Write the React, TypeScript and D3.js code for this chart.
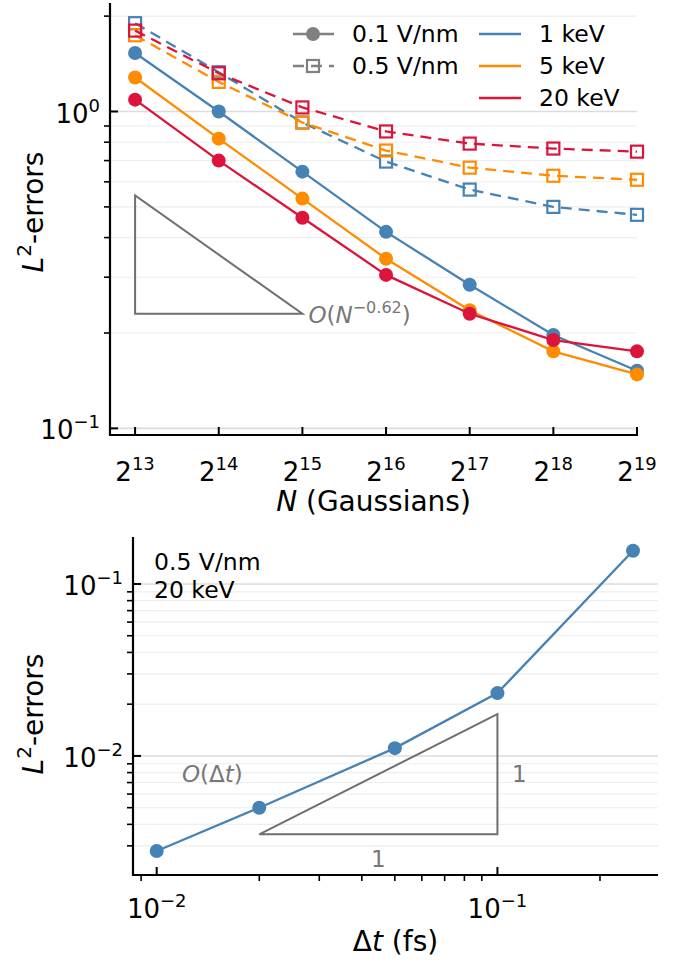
import React from "react";
import * as d3 from "d3";

// ---------- data ----------
const gaussN = [8192, 16384, 32768, 65536, 131072, 262144, 524288];
const gaussExp = ["13", "14", "15", "16", "17", "18", "19"];

const err01_1keV = [1.53, 1.0, 0.646, 0.417, 0.284, 0.197, 0.152];
const err01_5keV = [1.28, 0.821, 0.531, 0.343, 0.236, 0.175, 0.148];
const err01_20keV = [1.09, 0.7, 0.462, 0.305, 0.23, 0.19, 0.175];
const err05_1keV = [1.9, 1.33, 0.923, 0.695, 0.567, 0.5, 0.472];
const err05_5keV = [1.74, 1.24, 0.923, 0.753, 0.665, 0.627, 0.609];
const err05_20keV = [1.8, 1.32, 1.03, 0.865, 0.792, 0.764, 0.747];

const energies = ["1 keV", "5 keV", "20 keV"];
const fields = ["0.1 V/nm", "0.5 V/nm"];
const colors = ["#4682B4", "#FF8C00", "#DC143C"];

const dtValues = [0.01, 0.02, 0.05, 0.1, 0.25];
const dtErrors = [0.0028, 0.005, 0.0111, 0.0232, 0.156];

// slope guides (data coords)
const slopeTopX = [8192, 32768];
const slopeTopY = [0.23, 0.543];
const slopeBotX = [0.02, 0.1];
const slopeBotY = [0.0035, 0.0175];

const FONT = "DejaVu Sans";
const GRAY = "#6f6f6f";
const TICK = 26;
const SUP = 18;
const GUIDE = 28;

function Sup({ base, sup, x, y, anchor, size, supSize }: any) {
  return (
    <text x={x} y={y} textAnchor={anchor} fontFamily={FONT} fontSize={size} fill="#000">
      {base}
      <tspan dy={-size * 0.42} fontSize={supSize}>{sup}</tspan>
    </text>
  );
}

function minorTicks(domain: number[]) {
  const out: { v: number; major: boolean }[] = [];
  const lo = Math.floor(Math.log10(domain[0]));
  const hi = Math.ceil(Math.log10(domain[1]));
  for (let e = lo; e <= hi; e++) {
    for (let m = 1; m <= 9; m++) {
      const v = m * Math.pow(10, e);
      if (v >= domain[0] && v <= domain[1]) out.push({ v, major: m === 1 });
    }
  }
  return out;
}

function YLabel({ cy }: { cy: number }) {
  return (
    <text transform={`translate(43,${cy}) rotate(-90)`} textAnchor="middle" fontFamily={FONT} fontSize={GUIDE}>
      <tspan fontStyle="italic">L</tspan>
      <tspan dy={-12} fontSize={20}>2</tspan>
      <tspan dy={12}>-errors</tspan>
    </text>
  );
}

function TopChart() {
  const L = 110, R = 637, T = 3, B = 435;
  const x = d3.scaleLog().base(2).domain([Math.pow(2, 12.7), 524288]).range([L, R]);
  const y = d3.scaleLog().domain([0.0953, 2.2]).range([B, T]);
  const yt = minorTicks(y.domain());
  const line = d3.line<number>().x((_, i) => x(gaussN[i])).y((d) => y(d));
  const solid = [err01_1keV, err01_5keV, err01_20keV];
  const dashed = [err05_1keV, err05_5keV, err05_20keV];
  const sq = 12;
  return (
    <g>
      {yt.map((t, i) => (
        <line key={"g" + i} x1={L} x2={R} y1={y(t.v)} y2={y(t.v)}
          stroke={t.major ? "#dcdcdc" : "#eeeeee"} strokeWidth={t.major ? 1.6 : 1.1} />
      ))}
      {/* slope triangle */}
      <path
        d={`M${x(slopeTopX[0])},${y(slopeTopY[1])} L${x(slopeTopX[0])},${y(slopeTopY[0])} L${x(slopeTopX[1])},${y(slopeTopY[0])} Z`}
        fill="none" stroke={GRAY} strokeWidth={2} />
      <text x={x(slopeTopX[1]) + 6} y={y(slopeTopY[0]) + 9} fontFamily={FONT} fontSize={23} fill="#777">
        <tspan fontStyle="italic">O</tspan>(<tspan fontStyle="italic">N</tspan>
        <tspan dy={-10} fontSize={16}>−0.62</tspan>
        <tspan dy={10}>)</tspan>
      </text>
      {[0, 1, 2].map((k) => (
        <g key={"s" + k}>
          <path d={line(solid[k]) || ""} fill="none" stroke={colors[k]} strokeWidth={2.3} />
          {solid[k].map((v, i) => (
            <circle key={i} cx={x(gaussN[i])} cy={y(v)} r={7} fill={colors[k]} />
          ))}
          <path d={line(dashed[k]) || ""} fill="none" stroke={colors[k]} strokeWidth={2.3} strokeDasharray="11,7" />
          {dashed[k].map((v, i) => (
            <rect key={i} x={x(gaussN[i]) - sq / 2} y={y(v) - sq / 2} width={sq} height={sq}
              fill="none" stroke={colors[k]} strokeWidth={2.2} />
          ))}
        </g>
      ))}
      {/* spines */}
      <line x1={L} x2={L} y1={T} y2={B + 1} stroke="#000" strokeWidth={2.2} />
      <line x1={L - 1} x2={R + 1} y1={B} y2={B} stroke="#000" strokeWidth={2.2} />
      {yt.map((t, i) =>
        t.major ? (
          <line key={"t" + i} x1={L} x2={L + 8} y1={y(t.v)} y2={y(t.v)} stroke="#000" strokeWidth={2} />
        ) : (
          <line key={"t" + i} x1={L - 6} x2={L} y1={y(t.v)} y2={y(t.v)} stroke="#000" strokeWidth={1.6} />
        )
      )}
      {gaussN.map((n, i) => (
        <line key={"xt" + i} x1={x(n)} x2={x(n)} y1={B} y2={B - 8} stroke="#000" strokeWidth={2} />
      ))}
      {gaussN.map((n, i) => (
        <Sup key={"xl" + i} base="2" sup={gaussExp[i]} x={x(n)} y={B + 46} anchor="middle" size={TICK} supSize={SUP} />
      ))}
      <Sup base="10" sup="0" x={L - 10} y={y(1) + 11} anchor="end" size={TICK} supSize={SUP} />
      <Sup base="10" sup="−1" x={L - 10} y={y(0.1) + 11} anchor="end" size={TICK} supSize={SUP} />
      <text x={(L + R) / 2} y={511} textAnchor="middle" fontFamily={FONT} fontSize={GUIDE}>
        <tspan fontStyle="italic">N</tspan> (Gaussians)
      </text>
      <YLabel cy={212} />
      {/* legend */}
      <g fontFamily={FONT} fontSize={23.5}>
        <line x1={293} x2={334} y1={34} y2={34} stroke="#808080" strokeWidth={2.3} />
        <circle cx={313} cy={34} r={7} fill="#808080" />
        <text x={352} y={42}>{fields[0]}</text>
        <line x1={293} x2={334} y1={66} y2={66} stroke="#808080" strokeWidth={2.3} strokeDasharray="11,7" />
        <rect x={313 - sq / 2} y={66 - sq / 2} width={sq} height={sq} fill="none" stroke="#808080" strokeWidth={2.2} />
        <text x={352} y={74}>{fields[1]}</text>
        {energies.map((e, k) => (
          <g key={e}>
            <line x1={479} x2={521} y1={34 + 32 * k} y2={34 + 32 * k} stroke={colors[k]} strokeWidth={2.3} />
            <text x={539} y={42 + 32 * k}>{e}</text>
          </g>
        ))}
      </g>
    </g>
  );
}

function BottomChart() {
  const L = 133, R = 658, T = 537, B = 875;
  const x = d3.scaleLog().domain([0.00852, 0.296]).range([L, R]);
  const y = d3.scaleLog().domain([0.00203, 0.1876]).range([B, T]);
  const yt = minorTicks(y.domain());
  const xt = minorTicks(x.domain());
  const line = d3.line<number>().x((_, i) => x(dtValues[i])).y((d) => y(d));
  return (
    <g>
      {yt.map((t, i) => (
        <line key={"g" + i} x1={L} x2={R} y1={y(t.v)} y2={y(t.v)}
          stroke={t.major ? "#dcdcdc" : "#eeeeee"} strokeWidth={t.major ? 1.6 : 1.1} />
      ))}
      <path
        d={`M${x(slopeBotX[0])},${y(slopeBotY[0])} L${x(slopeBotX[1])},${y(slopeBotY[0])} L${x(slopeBotX[1])},${y(slopeBotY[1])} Z`}
        fill="none" stroke={GRAY} strokeWidth={2} />
      <text x={182} y={782} fontFamily={FONT} fontSize={23} fill="#777">
        <tspan fontStyle="italic">O</tspan>(Δ<tspan fontStyle="italic">t</tspan>)
      </text>
      <text x={x(slopeBotX[1]) + 22} y={782} textAnchor="middle" fontFamily={FONT} fontSize={23} fill="#777">1</text>
      <text x={(x(slopeBotX[0]) + x(slopeBotX[1])) / 2} y={867} textAnchor="middle" fontFamily={FONT} fontSize={23} fill="#777">1</text>
      <path d={line(dtErrors) || ""} fill="none" stroke={colors[0]} strokeWidth={2.3} />
      {dtErrors.map((v, i) => (
        <circle key={i} cx={x(dtValues[i])} cy={y(v)} r={7} fill={colors[0]} />
      ))}
      <line x1={L} x2={L} y1={T} y2={B + 1} stroke="#000" strokeWidth={2.2} />
      <line x1={L - 1} x2={R} y1={B} y2={B} stroke="#000" strokeWidth={2.2} />
      {yt.map((t, i) =>
        t.major ? (
          <line key={"t" + i} x1={L} x2={L + 8} y1={y(t.v)} y2={y(t.v)} stroke="#000" strokeWidth={2} />
        ) : (
          <line key={"t" + i} x1={L - 6} x2={L} y1={y(t.v)} y2={y(t.v)} stroke="#000" strokeWidth={1.6} />
        )
      )}
      {xt.map((t, i) =>
        t.major ? (
          <line key={"x" + i} x1={x(t.v)} x2={x(t.v)} y1={B} y2={B - 8} stroke="#000" strokeWidth={2} />
        ) : (
          <line key={"x" + i} x1={x(t.v)} x2={x(t.v)} y1={B} y2={B + 6} stroke="#000" strokeWidth={1.6} />
        )
      )}
      <Sup base="10" sup="−2" x={x(0.01)} y={B + 43} anchor="middle" size={TICK} supSize={SUP} />
      <Sup base="10" sup="−1" x={x(0.1)} y={B + 43} anchor="middle" size={TICK} supSize={SUP} />
      <Sup base="10" sup="−1" x={L - 10} y={y(0.1) + 11} anchor="end" size={TICK} supSize={SUP} />
      <Sup base="10" sup="−2" x={L - 10} y={y(0.01) + 11} anchor="end" size={TICK} supSize={SUP} />
      <text x={(L + R) / 2} y={951} textAnchor="middle" fontFamily={FONT} fontSize={GUIDE}>
        Δ<tspan fontStyle="italic">t</tspan> (fs)
      </text>
      <YLabel cy={714} />
      <text x={154} y={570} fontFamily={FONT} fontSize={23.5}>0.5 V/nm</text>
      <text x={154} y={598} fontFamily={FONT} fontSize={23.5}>20 keV</text>
    </g>
  );
}

export default function App() {
  return (
    <svg width={691} height={965} style={{ position: "absolute", left: 0, top: 0, background: "#fff" }}>
      <rect width={691} height={965} fill="#fff" />
      <TopChart />
      <BottomChart />
    </svg>
  );
}
